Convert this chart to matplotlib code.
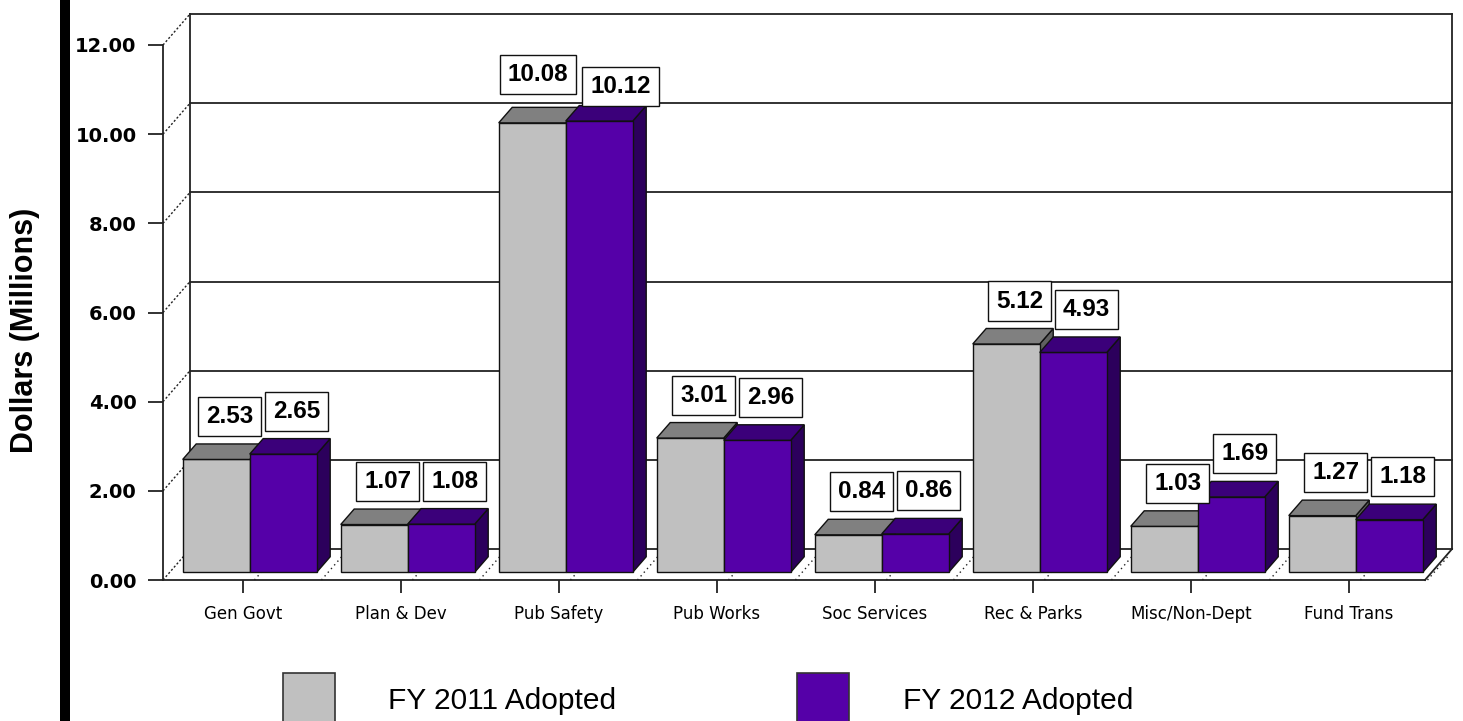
# General fund expenditures by department — FY 2011 vs FY 2012 adopted
# fake-3D bar chart (front plane axes + offset back wall)

import numpy as np
import matplotlib.pyplot as plt
from matplotlib.patches import Polygon, Rectangle

# ----- data -----
categories = ['Gen Govt', 'Plan & Dev', 'Pub Safety', 'Pub Works',
              'Soc Services', 'Rec & Parks', 'Misc/Non-Dept', 'Fund Trans']
fy2011 = [2.53, 1.07, 10.08, 3.01, 0.84, 5.12, 1.03, 1.27]
fy2012 = [2.65, 1.08, 10.12, 2.96, 0.86, 4.93, 1.69, 1.18]
yticks = np.arange(0, 13, 2)
series_names = ['FY 2011 Adopted', 'FY 2012 Adopted']

# ----- style -----
W_PX, H_PX = 1463, 721
GRAY = dict(front='#c0c0c0', top='#808080', side='#606060')
PURP = dict(front='#5500a8', top='#3b007a', side='#2c005c')
EDGE = '#111111'

fig = plt.figure(figsize=(W_PX / 100, H_PX / 100), dpi=100)
# axes = front plane of the 3D box
ax = fig.add_axes([163 / W_PX, (H_PX - 580) / H_PX,
                   (1425 - 163) / W_PX, (580 - 45) / H_PX])
xmin, xmax = -0.506, 7.481
ymin, ymax = 0, 12
ax.set_xlim(xmin, xmax)
ax.set_ylim(ymin, ymax)

# depth offset of the box, converted from pixels to data units
px_per_x = (1425 - 163) / (xmax - xmin)
px_per_y = (580 - 45) / (ymax - ymin)
DX = 27 / px_per_x
DY = 31 / px_per_y
bw = 67 / px_per_x            # single bar width
f0, f1 = 0.25, 0.75           # bar front/back depth as fraction of box depth

line_kw = dict(color='#222222', lw=1.3, clip_on=False)

# back wall + side wall gridlines
for v in yticks:
    ax.plot([xmin + DX, xmax + DX], [v + DY, v + DY], zorder=1, **line_kw)
    ax.plot([xmin, xmin + DX], [v, v + DY], ls=(0, (1.5, 1.5)), zorder=1,
            color='#222222', lw=1.0, clip_on=False)
ax.plot([xmin + DX, xmin + DX], [DY, ymax + DY], zorder=1, **line_kw)
ax.plot([xmax + DX, xmax + DX], [DY, ymax + DY], zorder=1, **line_kw)
ax.plot([xmax, xmax + DX], [0, DY], zorder=1, **line_kw)


def draw_bar(x0, v, col):
    b = f0 * DY
    d = (f1 - f0)
    front = Rectangle((x0, b), bw, v, facecolor=col['front'], edgecolor=EDGE,
                      lw=1.0, zorder=4)
    top = Polygon([(x0, b + v), (x0 + bw, b + v),
                   (x0 + bw + d * DX, b + v + d * DY), (x0 + d * DX, b + v + d * DY)],
                  closed=True, facecolor=col['top'], edgecolor=EDGE, lw=1.0, zorder=4)
    side = Polygon([(x0 + bw, b), (x0 + bw + d * DX, b + d * DY),
                    (x0 + bw + d * DX, b + v + d * DY), (x0 + bw, b + v)],
                   closed=True, facecolor=col['side'], edgecolor=EDGE, lw=1.0, zorder=4)
    for p in (side, front, top):
        p.set_clip_on(False)
        ax.add_patch(p)
    # dotted floor shadow to the right of the bar
    ax.plot([x0 + bw + 0.03, x0 + bw + 0.03 + f1 * DX], [0, f1 * DY],
            ls=(0, (1, 2.5)), color='#222222', lw=1.0, zorder=2, clip_on=False)
    # value label above the middle of the top face
    return ax.annotate(f'{v:.2f}', (x0 + bw / 2 + 0.5 * (f0 + f1) * DX, b + v + d * DY),
                       xytext=(0, 11.5), textcoords='offset points', ha='center',
                       va='bottom', fontsize=17.5, fontweight='bold',
                       family=['Liberation Sans', 'DejaVu Sans'],
                       bbox=dict(boxstyle='square,pad=0.33', fc='white', ec=EDGE, lw=1.0),
                       zorder=10, annotation_clip=False)


x = np.arange(len(categories))
label_pairs = []
for i in x:
    g0 = i + f0 * DX - bw
    a1 = draw_bar(g0, fy2011[i], GRAY)
    a2 = draw_bar(g0 + bw, fy2012[i], PURP)
    label_pairs.append((a1, a2))

# ----- axes -----
for s in ('top', 'right'):
    ax.spines[s].set_visible(False)
for s in ('left', 'bottom'):
    ax.spines[s].set_linewidth(1.3)
    ax.spines[s].set_color('#222222')
ax.set_yticks(yticks)
ax.set_yticklabels([f'{v:.2f}' for v in yticks], fontsize=14, fontweight='bold',
                   family='DejaVu Sans')
ax.set_xticks(x)
ax.set_xticklabels(categories, fontsize=12, family='DejaVu Sans')
ax.tick_params(axis='y', length=11, width=1.3, pad=8, color='#222222')
ax.tick_params(axis='x', length=9, width=1.3, pad=9, color='#222222')
ax.patch.set_alpha(0)

fig.text(25 / W_PX, 1 - 330 / H_PX, 'Dollars (Millions)', rotation=90,
         ha='center', va='center', fontsize=22, fontweight='bold',
         family=['Liberation Sans', 'DejaVu Sans'])

# thick black bar on the left edge
fig.add_artist(Rectangle((60 / W_PX, 0), 10 / W_PX, 1, transform=fig.transFigure,
                         facecolor='black', edgecolor='none'))

# ----- legend (manual, squares run off the bottom edge) -----
for sx, tx, col, name in [(283, 388, GRAY['front'], series_names[0]),
                          (797, 903, PURP['front'], series_names[1])]:
    fig.add_artist(Rectangle((sx / W_PX, -0.01), 52 / W_PX, (H_PX - 673) / H_PX + 0.01,
                             transform=fig.transFigure, facecolor=col,
                             edgecolor='#333333', lw=1.2))
    fig.text(tx / W_PX, 1 - 709 / H_PX, name, ha='left', va='baseline', fontsize=21.5,
             family=['Liberation Sans', 'DejaVu Sans'])

# push apart value boxes that actually touch (the 10.08 / 10.12 pair)
fig.canvas.draw()
r = fig.canvas.get_renderer()
for a1, a2 in label_pairs:
    b1 = a1.get_bbox_patch().get_window_extent(r)
    b2 = a2.get_bbox_patch().get_window_extent(r)
    gap = b2.x0 - b1.x1
    if gap < 2 and b1.y0 < b2.y1 and b2.y0 < b1.y1:
        shift_pt = (6 - gap) * 72 / fig.dpi
        a1.xyann = (-shift_pt / 2, a1.xyann[1] + 4)
        a2.xyann = (shift_pt / 2, a2.xyann[1] - 6)

fig.savefig('out.png', dpi=100, facecolor='white')
